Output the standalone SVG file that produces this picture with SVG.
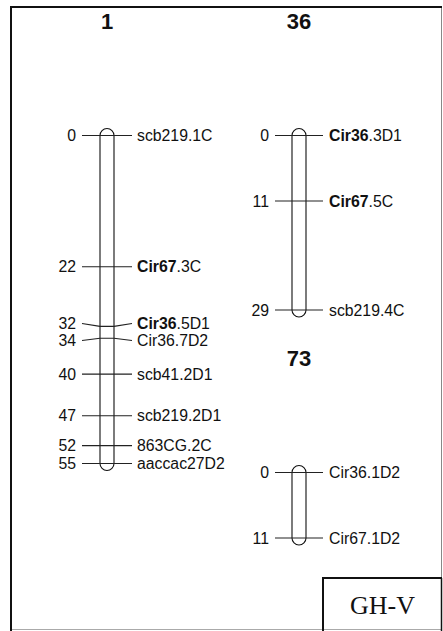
<svg xmlns="http://www.w3.org/2000/svg" width="443" height="631" viewBox="0 0 443 631">
<style>
.bar{fill:none;stroke:#111;stroke-width:1.1}
.tk{fill:none;stroke:#222;stroke-width:1.1}
.t{font-family:"Liberation Sans",Arial,sans-serif;font-size:15.8px;fill:#111}
.l{text-anchor:end}
.b{font-weight:bold}
.h{font-family:"Liberation Sans",Arial,sans-serif;font-size:22px;font-weight:bold;fill:#111;text-anchor:middle}
</style>
<rect x="0" y="0" width="443" height="631" fill="#fff"/>
<g id="frame">
<line x1="441.5" y1="7" x2="441.5" y2="630" stroke="#888" stroke-width="1"/>
<line x1="11" y1="629.5" x2="442" y2="629.5" stroke="#aaa" stroke-width="1"/>
<polyline points="11,631 11,7 442,7" fill="none" stroke="#111" stroke-width="2"/>
</g>
<g id="chr1">
<text class="h" x="107" y="29">1</text>
<rect class="bar" x="100" y="128.5" width="14" height="342" rx="7"/>
</g>
<g id="chr36">
<text class="h" x="299" y="29">36</text>
<rect class="bar" x="292" y="128.5" width="14" height="188.5" rx="7"/>
</g>
<g id="chr73">
<text class="h" x="299" y="365.5">73</text>
<rect class="bar" x="292" y="465.5" width="14" height="79.5" rx="7"/>
</g>
<g id="connectors">
<path class="tk" d="M82,135.5H132M82,266.7H132M82,323.5L100,326.4H114L132,323.5M82,340.5L100,338.3H114L132,340.5M82,374.1H132M82,415.8H132M82,445.6H132M82,463.5H132"/>
<path class="tk" d="M275,135.5H323M275,201H323M275,310H323M275,472.5H323M275,538H323"/>
</g>
<g id="labels-chr1">
<text class="t l" x="76" y="141">0</text>
<text class="t" x="137" y="141">scb219.1C</text>
<text class="t l" x="76" y="272.2">22</text>
<text class="t" x="137" y="272.2"><tspan class="b">Cir67</tspan>.3C</text>
<text class="t l" x="76" y="329">32</text>
<text class="t" x="137" y="329"><tspan class="b">Cir36</tspan>.5D1</text>
<text class="t l" x="76" y="346">34</text>
<text class="t" x="137" y="346">Cir36.7D2</text>
<text class="t l" x="76" y="379.6">40</text>
<text class="t" x="137" y="379.6">scb41.2D1</text>
<text class="t l" x="76" y="421.3">47</text>
<text class="t" x="137" y="421.3">scb219.2D1</text>
<text class="t l" x="76" y="451.1">52</text>
<text class="t" x="137" y="451.1">863CG.2C</text>
<text class="t l" x="76" y="469">55</text>
<text class="t" x="137" y="469">aaccac27D2</text>
</g>
<g id="labels-chr36">
<text class="t l" x="269" y="141">0</text>
<text class="t" x="329" y="141"><tspan class="b">Cir36</tspan>.3D1</text>
<text class="t l" x="269" y="206.5">11</text>
<text class="t" x="329" y="206.5"><tspan class="b">Cir67</tspan>.5C</text>
<text class="t l" x="269" y="315.5">29</text>
<text class="t" x="329" y="315.5">scb219.4C</text>
</g>
<g id="labels-chr73">
<text class="t l" x="269" y="478">0</text>
<text class="t" x="329" y="478">Cir36.1D2</text>
<text class="t l" x="269" y="543.5">11</text>
<text class="t" x="329" y="543.5">Cir67.1D2</text>
</g>
<g id="legend">
<polyline points="323,631 323,578 442,578" fill="none" stroke="#111" stroke-width="2"/>
<line x1="441.5" y1="578" x2="441.5" y2="631" stroke="#111" stroke-width="1.5"/>
<text x="382.5" y="614" font-family="'Liberation Serif','Times New Roman',serif" font-size="26" text-anchor="middle" fill="#111">GH-V</text>
</g>
</svg>
